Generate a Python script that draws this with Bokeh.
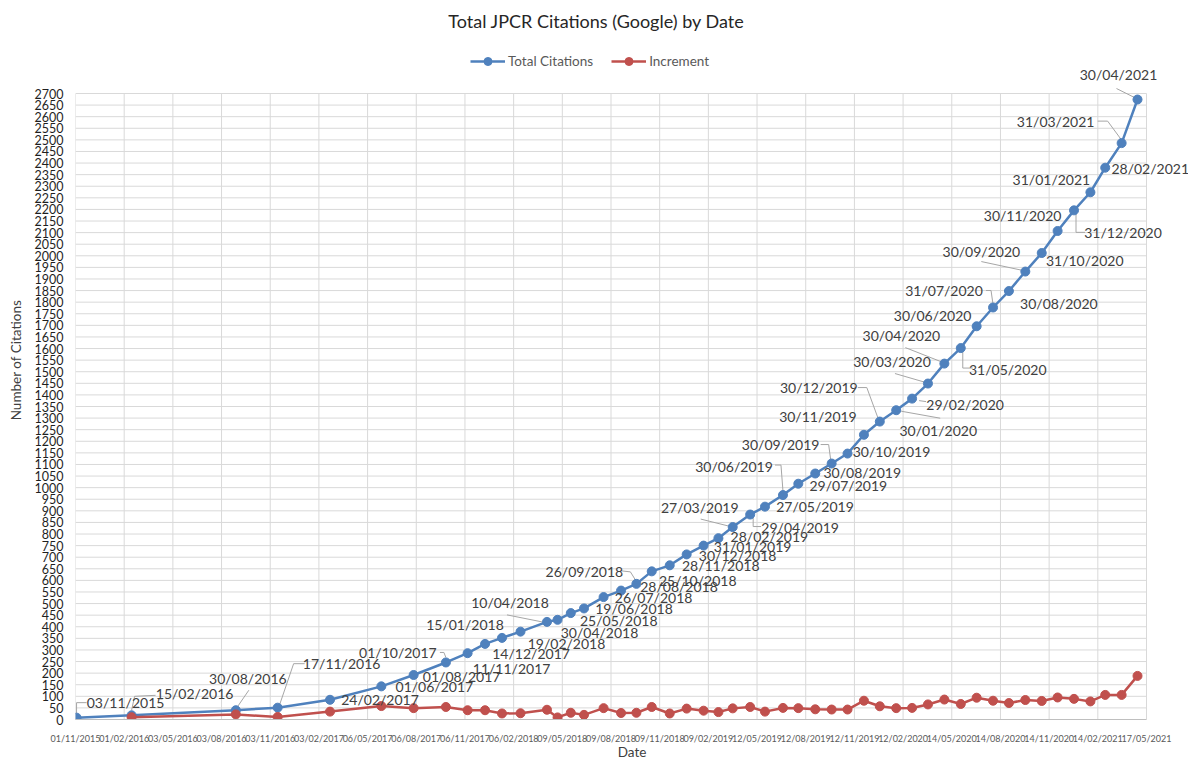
import pandas as pd
from bokeh.plotting import figure
from bokeh.models import (ColumnDataSource, LabelSet, Label, Legend, LegendItem,
                          FixedTicker, DatetimeTickFormatter, Range1d)
from bokeh.embed import file_html
from bokeh.resources import INLINE
from bokeh.core.properties import value

# ---------------- data ----------------
dates = ["03/11/2015", "15/02/2016", "30/08/2016", "17/11/2016", "24/02/2017",
         "01/06/2017", "01/08/2017", "01/10/2017", "11/11/2017", "14/12/2017",
         "15/01/2018", "19/02/2018", "10/04/2018", "30/04/2018", "25/05/2018",
         "19/06/2018", "26/07/2018", "28/08/2018", "26/09/2018", "25/10/2018",
         "28/11/2018", "30/12/2018", "31/01/2019", "28/02/2019", "27/03/2019",
         "29/04/2019", "27/05/2019", "30/06/2019", "29/07/2019", "30/08/2019",
         "30/09/2019", "30/10/2019", "30/11/2019", "30/12/2019", "30/01/2020",
         "29/02/2020", "30/03/2020", "30/04/2020", "31/05/2020", "30/06/2020",
         "31/07/2020", "30/08/2020", "30/09/2020", "31/10/2020", "30/11/2020",
         "31/12/2020", "31/01/2021", "28/02/2021", "31/03/2021", "30/04/2021"]

total_citations = [8, 18, 40, 51, 85, 143, 192, 246, 286, 326,
                   352, 379, 421, 430, 459, 479, 528, 556, 585, 639,
                   665, 712, 750, 782, 830, 884, 918, 968, 1017, 1061,
                   1104, 1147, 1228, 1285, 1334, 1384, 1449, 1535, 1602, 1696,
                   1777, 1848, 1932, 2012, 2107, 2196, 2274, 2380, 2486, 2674]

# increments start at the second date
increment_dates = dates[1:]
increment = [10, 22, 11, 34, 58, 49, 54, 40, 40,
             26, 27, 42, 9, 29, 20, 49, 28, 29, 54,
             26, 47, 38, 32, 48, 54, 34, 50, 49, 44,
             43, 43, 81, 57, 49, 50, 65, 86, 67, 94,
             81, 71, 84, 80, 95, 89, 78, 106, 106, 188]

tick_labels = ["01/11/2015", "01/02/2016", "03/05/2016", "03/08/2016", "03/11/2016",
               "03/02/2017", "06/05/2017", "06/08/2017", "06/11/2017", "06/02/2018",
               "09/05/2018", "09/08/2018", "09/11/2018", "09/02/2019", "12/05/2019",
               "12/08/2019", "12/11/2019", "12/02/2020", "14/05/2020", "14/08/2020",
               "14/11/2020", "14/02/2021", "17/05/2021"]

y_ticks = list(range(0, 2701, 50))

# ---------------- label placement (screen px: dx right, dy down) ----------------
label_offsets = [(49, -15), (63, -22), (12, -32), (64, -44), (50, 0),
                 (53, 0), (48, 2), (-48, -10), (44, 15), (46, 10),
                 (-37, -13), (46, 12), (-37, -19), (42, 13), (48, 7),
                 (50, 0), (50, 0), (58, -4), (-52, -12), (46, 9),
                 (51, 0), (51, 1), (49, 1), (51, -2), (-33, -20),
                 (50, 13), (50, 0), (-49, -29), (50, 2), (47, -1),
                 (-51, -19), (44, -2), (-46, -18), (-61, -34), (42, 20),
                 (53, 6), (-36, -22), (-43, -28), (47, 21), (-44, -11),
                 (-49, -17), (50, 12), (-44, -20), (43, 7), (-35, -15),
                 (49, 22), (-39, -13), (45, 1), (-66, -22), (-19, -25)]

leader_paths = {
    0: [(0, -4), (0, -15), (10, -15)],
    1: [(0, -5), (3, -19), (24, -20)],
    2: [(2, -4), (13, -20)],
    3: [(2, -3), (16, -44), (27, -44)],
    7: [(-6, -10), (-2, -10), (0, -5)],
    12: [(-40, -7), (-5, 0)],
    18: [(-15, -13), (-6, -12), (-1, -4)],
    24: [(-32, -8), (-4, -1)],
    25: [(3, 1), (3, 12), (11, 12)],
    27: [(-8, -30), (-2, -30), (0, -4)],
    30: [(-11, -19), (-3, -19), (-1, -4)],
    33: [(-22, -34), (-13, -34), (-2, -4)],
    34: [(5, 1), (44, 8)],
    35: [(7, 2), (14, 3)],
    36: [(-33, -10), (-2, -1)],
    37: [(-39, -16), (-1, -1)],
    38: [(2, 2), (2, 20), (12, 20)],
    40: [(-7, -17), (-2, -17), (0, -3)],
    42: [(-44, -10), (-2, -1)],
    45: [(2, 2), (2, 22), (11, 22)],
    48: [(-24, -22), (-14, -22), (0, -3)],
    49: [(-21, -11), (-3, -2)],
}

# ---------------- geometry ----------------
LEFT = 75            # frame left (px)
AXIS_W = 1071        # px from first to last date tick
AXIS_H = 626         # px from 0 to 2700
EXTRA_RIGHT = 42     # room for labels right of the last tick
EXTRA_TOP = 93       # room for title / legend above 2700
FW = AXIS_W + EXTRA_RIGHT
FH = AXIS_H + EXTRA_TOP

BLUE = "#4F81BD"
RED = "#C0504D"
GRID = "#D9D9D9"
FONT = "Lato"

def to_ms(strings):
    ts = pd.to_datetime(strings, format="%d/%m/%Y")
    return [t.value / 1e6 for t in ts]

x_total = to_ms(dates)
x_inc = to_ms(increment_dates)
x_ticks = to_ms(tick_labels)
x_start, x_end = x_ticks[0], x_ticks[-1]
y_start, y_end = y_ticks[0], y_ticks[-1]

px_per_ms = AXIS_W / (x_end - x_start)
px_per_unit = AXIS_H / (y_end - y_start)

p = figure(frame_width=FW, frame_height=FH, x_axis_type="datetime", title=None,
           output_backend="svg", toolbar_location=None,
           x_range=Range1d(x_start, x_end + EXTRA_RIGHT / px_per_ms),
           y_range=Range1d(y_start, y_end + EXTRA_TOP / px_per_unit),
           min_border_left=LEFT, min_border_right=0,
           min_border_top=0, min_border_bottom=37)
p.outline_line_color = None
p.background_fill_color = "white"
p.xgrid.visible = False
p.ygrid.visible = False

# gridlines limited to the axis extent
p.segment(x0=x_ticks, x1=x_ticks, y0=[y_start] * len(x_ticks), y1=[y_end] * len(x_ticks),
          line_color=GRID, line_width=1, level="underlay")
p.segment(x0=[x_start] * len(y_ticks), x1=[x_end] * len(y_ticks), y0=y_ticks, y1=y_ticks,
          line_color=GRID, line_width=1, level="underlay")

# axes
p.xaxis.bounds = (x_start, x_end)
p.xaxis.ticker = FixedTicker(ticks=x_ticks)
p.xaxis.formatter = DatetimeTickFormatter(
    microseconds="%d/%m/%Y", milliseconds="%d/%m/%Y", seconds="%d/%m/%Y",
    minsec="%d/%m/%Y", minutes="%d/%m/%Y", hourmin="%d/%m/%Y", hours="%d/%m/%Y",
    days="%d/%m/%Y", months="%d/%m/%Y", years="%d/%m/%Y")
p.xaxis.major_label_text_font = FONT
p.xaxis.major_label_text_font_size = "9px"
p.xaxis.major_label_text_color = "#595959"
p.xaxis.major_tick_out = 0
p.xaxis.major_tick_in = 0
p.xaxis.major_label_standoff = 13
p.xaxis.axis_line_color = "#BFBFBF"
p.xaxis.major_tick_line_color = None
p.xaxis.minor_tick_line_color = None
p.xaxis.axis_label = "Date"
p.xaxis.axis_label_text_font = FONT
p.xaxis.axis_label_text_font_size = "13.5px"
p.xaxis.axis_label_text_font_style = "normal"
p.xaxis.axis_label_text_color = "#404040"
p.xaxis.axis_label_standoff = -3

p.yaxis.bounds = (y_start, y_end)
p.yaxis.ticker = FixedTicker(ticks=y_ticks)
p.yaxis.major_label_text_font = FONT
p.yaxis.major_label_text_font_size = "12.5px"
p.yaxis.major_label_text_color = "#1F1F1F"
p.yaxis.major_tick_out = 0
p.yaxis.major_tick_in = 0
p.yaxis.major_label_standoff = 12
p.yaxis.axis_line_color = None
p.yaxis.major_tick_line_color = None
p.yaxis.minor_tick_line_color = None
p.yaxis.axis_label = "Number of Citations"
p.yaxis.axis_label_text_font = FONT
p.yaxis.axis_label_text_font_size = "13.5px"
p.yaxis.axis_label_text_font_style = "normal"
p.yaxis.axis_label_text_color = "#404040"
p.yaxis.axis_label_standoff = 8

# series
src_total = ColumnDataSource(dict(x=x_total, y=total_citations, label=dates,
                                  dx=[o[0] for o in label_offsets],
                                  dy=[-o[1] for o in label_offsets]))
src_inc = ColumnDataSource(dict(x=x_inc, y=increment))

# leader lines
lxs, lys = [], []
for i, path in leader_paths.items():
    lxs.append([x_total[i] + dx / px_per_ms for dx, dy in path])
    lys.append([total_citations[i] - dy / px_per_unit for dx, dy in path])
p.multi_line(xs=lxs, ys=lys, line_color="#A6A6A6", line_width=1)

bl = p.line("x", "y", source=src_total, line_color=BLUE, line_width=2.5)
bs = p.scatter("x", "y", source=src_total, size=9, fill_color=BLUE, line_color=BLUE)
rl = p.line("x", "y", source=src_inc, line_color=RED, line_width=2.5)
rs = p.scatter("x", "y", source=src_inc, size=9, fill_color=RED, line_color=RED)

labels = LabelSet(x="x", y="y", text="label", source=src_total,
                  x_offset="dx", y_offset="dy",
                  text_align="center", text_baseline="middle",
                  text_font=value(FONT), text_font_size="14px", text_color="#404040")
p.add_layout(labels)

legend = Legend(items=[LegendItem(label="Total Citations", renderers=[bl, bs]),
                       LegendItem(label="Increment", renderers=[rl, rs])],
                orientation="horizontal", location=(395, FH - 71),
                glyph_width=35, glyph_height=20, label_height=20,
                label_standoff=3, spacing=18, padding=0, margin=0,
                border_line_color=None, background_fill_alpha=0,
                label_text_font=FONT, label_text_font_size="13.5px",
                label_text_color="#595959")
p.add_layout(legend)

title = Label(x=521, y=FH - 20, x_units="screen", y_units="screen",
              text="Total JPCR Citations (Google) by Date",
              text_align="center", text_baseline="middle",
              text_font=FONT, text_font_size="18px", text_color="#262626")
p.add_layout(title)

open("out.html", "w").write(file_html(p, INLINE))
